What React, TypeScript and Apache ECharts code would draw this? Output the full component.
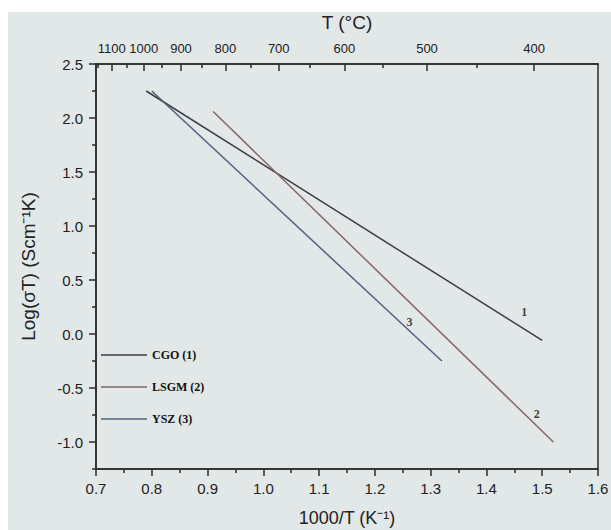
import React, { useEffect, useRef } from "react";
import * as echarts from "echarts";

// Series data (1000/T, log(sigma T))
const seriesNames = ["CGO (1)", "LSGM (2)", "YSZ (3)"];
const cgoData: [number, number][] = [[0.79, 2.25], [1.5, -0.06]];
const lsgmData: [number, number][] = [[0.91, 2.06], [1.52, -1.0]];
const yszData: [number, number][] = [[0.8, 2.25], [1.32, -0.25]];
const seriesColors = ["#3a3e43", "#86646a", "#52617f"];

// Curve number labels: [x, y, text]
const curveLabels: [number, number, string][] = [
  [1.468, 0.2, "1"],
  [1.49, -0.745, "2"],
  [1.262, 0.11, "3"],
];

// Axis ticks
const yMajorTicks = [-1.0, -0.5, 0.0, 0.5, 1.0, 1.5, 2.0, 2.5];
const yMinorTicks = [-1.25, -0.75, -0.25, 0.25, 0.75, 1.25, 1.75, 2.25];
const topTempMajor = [1100, 1000, 900, 800, 700, 600, 500, 400];
const topTempMinor = [1150, 1050, 950, 850, 750, 650, 550, 450];

const toInv = (tC: number) => 1000 / (tC + 273.15);

export default function App() {
  const ref = useRef<HTMLDivElement>(null);
  useEffect(() => {
    if (!ref.current) return;
    const chart = echarts.init(ref.current, null, { renderer: "svg" });
    const axisColor = "#2b2b2b";
    const sans = "Liberation Sans, Arial, sans-serif";
    const serif = "Liberation Serif, Times New Roman, serif";
    chart.setOption({
      animation: false,
      backgroundColor: "#e2e7e7",
      grid: {
        left: 88,
        right: 13,
        top: 52,
        bottom: 61,
        outerBoundsMode: "none",
        containLabel: false,
        show: true,
        borderColor: axisColor,
        borderWidth: 1.5,
        backgroundColor: "transparent",
      },
      legend: {
        data: seriesNames,
        orient: "vertical",
        left: 93,
        top: 336,
        padding: 0,
        icon: "rect",
        itemWidth: 46,
        itemHeight: 1.5,
        itemGap: 18,
        textStyle: { fontFamily: serif, fontWeight: "bold", fontSize: 12, color: "#111", lineHeight: 14 },
      },
      xAxis: [
        {
          type: "value",
          position: "bottom",
          min: 0.7,
          max: 1.6,
          interval: 0.1,
          name: "1000/T (K\u207B\u00B9)",
          nameLocation: "middle",
          nameGap: 40,
          nameTextStyle: { fontFamily: sans, fontSize: 18, color: "#222" },
          axisLine: { show: true, onZero: false, lineStyle: { color: axisColor, width: 1.5 } },
          axisTick: { show: true, inside: false, length: 7, lineStyle: { color: axisColor, width: 1.5 } },
          minorTick: { show: true, splitNumber: 2, length: 4, lineStyle: { color: axisColor, width: 1.5 } },
          splitLine: { show: false },
          axisLabel: { margin: 12, fontFamily: sans, fontSize: 15, color: "#222", formatter: (v: number) => v.toFixed(1) },
        },
        {
          type: "value",
          position: "top",
          min: 0.7,
          max: 1.6,
          name: "T (\u00B0C)",
          nameLocation: "middle",
          nameGap: 32,
          nameTextStyle: { fontFamily: sans, fontSize: 19, color: "#222" },
          axisLine: { show: true, onZero: false, lineStyle: { color: axisColor, width: 1.5 } },
          axisTick: {
            show: true,
            inside: true,
            length: 7,
            customValues: topTempMajor.map(toInv),
            lineStyle: { color: axisColor, width: 1.5 },
          },
          splitLine: { show: false },
          axisLabel: {
            margin: 9,
            fontFamily: sans,
            fontSize: 13,
            color: "#222",
            customValues: topTempMajor.map(toInv),
            formatter: (v: number) => String(Math.round((1000 / v - 273.15) / 50) * 50),
          },
        },
        {
          type: "value",
          position: "top",
          min: 0.7,
          max: 1.6,
          axisLine: { show: false, onZero: false },
          axisTick: {
            show: true,
            inside: true,
            length: 4,
            customValues: topTempMinor.map(toInv),
            lineStyle: { color: axisColor, width: 1.5 },
          },
          splitLine: { show: false },
          axisLabel: { show: false },
        },
      ],
      yAxis: [
        {
          type: "value",
          min: -1.25,
          max: 2.5,
          name: "Log(\u03C3T) (Scm\u207B\u00B9K)",
          nameLocation: "middle",
          nameGap: 58,
          nameTextStyle: { fontFamily: sans, fontSize: 19, color: "#222" },
          axisLine: { show: true, onZero: false, lineStyle: { color: axisColor, width: 1.5 } },
          axisTick: {
            show: true,
            inside: false,
            length: 7,
            customValues: yMajorTicks,
            lineStyle: { color: axisColor, width: 1.5 },
          },
          splitLine: { show: false },
          axisLabel: {
            margin: 13,
            fontFamily: sans,
            fontSize: 15,
            color: "#222",
            customValues: yMajorTicks,
            formatter: (v: number) => v.toFixed(1),
          },
        },
        {
          type: "value",
          position: "left",
          min: -1.25,
          max: 2.5,
          axisLine: { show: false, onZero: false },
          axisTick: {
            show: true,
            inside: false,
            length: 4,
            customValues: yMinorTicks,
            lineStyle: { color: axisColor, width: 1.5 },
          },
          splitLine: { show: false },
          axisLabel: { show: false },
        },
      ],
      series: [
        { name: seriesNames[0], type: "line", data: cgoData, symbol: "none", lineStyle: { color: seriesColors[0], width: 1.5 }, itemStyle: { color: seriesColors[0] } },
        { name: seriesNames[1], type: "line", data: lsgmData, symbol: "none", lineStyle: { color: seriesColors[1], width: 1.5 }, itemStyle: { color: seriesColors[1] } },
        { name: seriesNames[2], type: "line", data: yszData, symbol: "none", lineStyle: { color: seriesColors[2], width: 1.5 }, itemStyle: { color: seriesColors[2] } },
        {
          name: "labels",
          type: "scatter",
          data: curveLabels,
          symbolSize: 0,
          silent: true,
          label: {
            show: true,
            position: "inside",
            formatter: (p: any) => p.value[2],
            fontFamily: serif,
            fontWeight: "bold",
            fontSize: 12,
            color: "#111",
          },
        },
      ],
    });
    return () => chart.dispose();
  }, []);
  return (
    <div
      ref={ref}
      style={{ position: "absolute", left: 8, top: 12, width: 603, height: 518 }}
    />
  );
}
